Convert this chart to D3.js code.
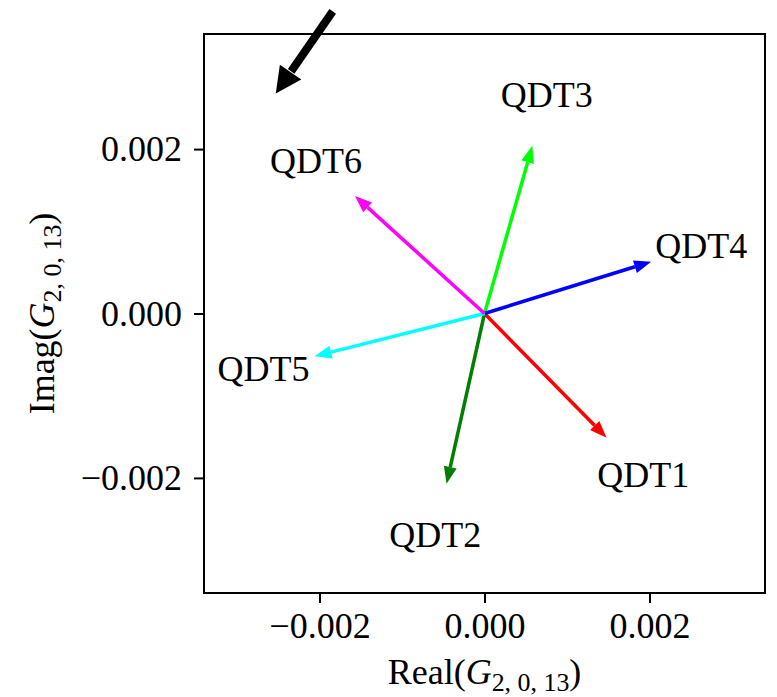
<!DOCTYPE html>
<html><head><meta charset="utf-8">
<script src="https://cdn.jsdelivr.net/npm/d3@7"></script>
<style>body{margin:0;background:#fff}svg{display:block}text{font-family:"Liberation Serif","DejaVu Serif",serif}</style>
</head><body>
<svg id="c" width="777" height="697"></svg>
<script>
const labels = ["QDT1","QDT2","QDT3","QDT4","QDT5","QDT6"];
const realVals = [0.00148, -0.00046, 0.00058, 0.00202, -0.00206, -0.00157];
const imagVals = [-0.00151, -0.00207, 0.00204, 0.00063, -0.00052, 0.00143];
const colors = ["#ff0000","#008000","#00ff00","#0000ff","#00ffff","#ff00ff"];
const xTicks = [-0.002, 0.000, 0.002];
const yTicks = [-0.002, 0.000, 0.002];
const xDomain = [-0.0034, 0.0034];
const yDomain = [-0.0034, 0.0034];
const pointer = {from:[-0.00184, 0.003675], to:[-0.00253, 0.002675]};
const labelScale = 1.3;

const svg = d3.select("#c");
const L=204, R=765, T=34, B=593;
const x = d3.scaleLinear().domain(xDomain).range([L,R]);
const y = d3.scaleLinear().domain(yDomain).range([B,T]);
const fmt = v => (v<0?"\u2212":"") + Math.abs(v).toFixed(3);
const FS = 36;

// axes
const xAxis = d3.axisBottom(x).tickValues(xTicks).tickFormat(fmt).tickSize(10).tickSizeOuter(0).tickPadding(9);
const yAxis = d3.axisLeft(y).tickValues(yTicks).tickFormat(fmt).tickSize(10).tickSizeOuter(0).tickPadding(12);
const gx = svg.append("g").attr("transform",`translate(0,${B})`).call(xAxis);
const gy = svg.append("g").attr("transform",`translate(${L},0)`).call(yAxis);
[gx,gy].forEach(g=>{
  g.select(".domain").remove();
  g.selectAll(".tick line").attr("stroke","#000").attr("stroke-width",2);
  g.selectAll(".tick text").attr("font-size",FS).attr("fill","#000").style("font-family",'"Liberation Serif",serif');
});

function arrowHead(x1,y1,x2,y2,len,hw){
  const dx=x2-x1, dy=y2-y1, d=Math.hypot(dx,dy), ux=dx/d, uy=dy/d;
  const bx=x2-ux*len, by=y2-uy*len;
  return {bx,by,pts:[[x2,y2],[bx+uy*hw,by-ux*hw],[bx-uy*hw,by+ux*hw]]};
}

// vectors
const g = svg.append("g");
labels.forEach((lab,i)=>{
  const x1=x(0), y1=y(0), x2=x(realVals[i]), y2=y(imagVals[i]);
  const h = arrowHead(x1,y1,x2,y2,17,6.5);
  g.append("line").attr("x1",x1).attr("y1",y1).attr("x2",h.bx).attr("y2",h.by)
    .attr("stroke",colors[i]).attr("stroke-width",3.5);
  g.append("polygon").attr("points",h.pts.map(p=>p.join(",")).join(" ")).attr("fill",colors[i]);
});
labels.forEach((lab,i)=>{
  svg.append("text").attr("x",x(realVals[i]*labelScale)).attr("y",y(imagVals[i]*labelScale))
    .attr("text-anchor","middle").attr("dominant-baseline","central").attr("font-size",FS).text(lab);
});

// frame
svg.append("rect").attr("x",L).attr("y",T).attr("width",R-L).attr("height",B-T)
  .attr("fill","none").attr("stroke","#000").attr("stroke-width",2);

// black pointer arrow
{
  const x1=x(pointer.from[0]), y1=y(pointer.from[1]), x2=x(pointer.to[0]), y2=y(pointer.to[1]);
  const h = arrowHead(x1,y1,x2,y2,26,13);
  svg.append("line").attr("x1",x1).attr("y1",y1).attr("x2",h.bx+ (x1-x2)*0.01).attr("y2",h.by+(y1-y2)*0.01)
    .attr("stroke","#000").attr("stroke-width",8);
  svg.append("polygon").attr("points",h.pts.map(p=>p.join(",")).join(" ")).attr("fill","#000");
}

// axis labels
const xl = svg.append("text").attr("x",(L+R)/2).attr("y",684).attr("text-anchor","middle").attr("font-size",FS);
xl.append("tspan").text("Real(");
xl.append("tspan").attr("font-style","italic").text("G");
xl.append("tspan").attr("font-size",FS*0.72).attr("dy",7).text("2, 0, 13");
xl.append("tspan").attr("dy",-7).text(")");

const yl = svg.append("text").attr("transform",`translate(54,${(T+B)/2}) rotate(-90)`).attr("text-anchor","middle").attr("font-size",FS);
yl.append("tspan").text("Imag(");
yl.append("tspan").attr("font-style","italic").text("G");
yl.append("tspan").attr("font-size",FS*0.72).attr("dy",7).text("2, 0, 13");
yl.append("tspan").attr("dy",-7).text(")");
</script>
</body></html>
